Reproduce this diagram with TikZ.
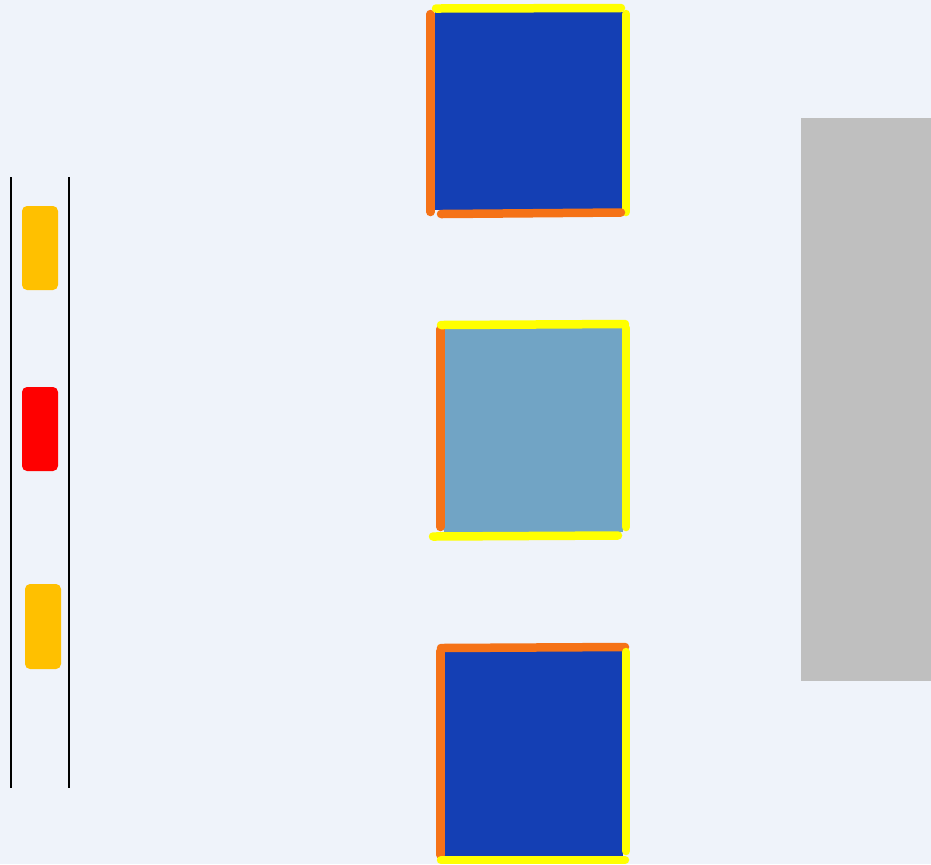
\documentclass[tikz,border=0pt]{standalone}
\usepackage{xcolor}
\usepackage{tikz}
\definecolor{bgpale}{HTML}{EFF3FA}
\definecolor{wallgray}{HTML}{BFBFBF}
\definecolor{deepblue}{HTML}{143FB4}
\definecolor{steelblue}{HTML}{71A4C5}
\definecolor{amber}{HTML}{FFC000}
\definecolor{edgeorange}{HTML}{F57217}
\definecolor{edgeyellow}{HTML}{FFFF00}

\begin{document}
\begin{tikzpicture}[x=0.1mm, y=-0.1mm,
  lamp/.style={rounded corners=0.5mm},
  rail/.style={draw=black, line width=0.12mm},
  edge/.style={line width=0.85mm, line cap=round},
  hot/.style={edge, draw=edgeorange},
  cold/.style={edge, draw=edgeyellow}]
  % background and bounding box
  \fill[bgpale] (0,0) rectangle (931,864);
  \useasboundingbox (0,0) rectangle (931,864);

  % wall on the right
  \fill[wallgray] (801,118) rectangle (931,681);

  % signal rails and lamps
  \draw[rail] (11,177) -- (11,788);
  \draw[rail] (69,177) -- (69,788);
  \fill[amber, lamp] (22,206) rectangle (58,290);
  \fill[red, lamp] (22,387) rectangle (58,471);
  \fill[amber, lamp] (25,584) rectangle (61,669);

  % upper block
  \fill[deepblue] (435,12) rectangle (623,210);
  \draw[hot] (430.5,14) -- (430.5,212);
  \draw[cold] (436,8.5) -- (621,8);
  \draw[cold] (626,14) -- (626,212);
  \draw[hot] (441,214) -- (621,212.5);

  % middle block
  \fill[steelblue] (444,327) rectangle (623,532);
  \draw[hot] (440.5,329) -- (440.5,527);
  \draw[cold] (441,325) -- (625,324);
  \draw[cold] (626,328) -- (626,527);
  \draw[cold] (433,536.5) -- (618,535.5);

  % lower block
  \fill[deepblue] (444,651) rectangle (623,856);
  \draw[hot] (440.5,651) -- (440.5,855);
  \draw[hot] (441,648) -- (625,647);
  \draw[cold] (626,652) -- (626,851);
  \draw[cold] (441,860) -- (625,860);
\end{tikzpicture}
\end{document}
